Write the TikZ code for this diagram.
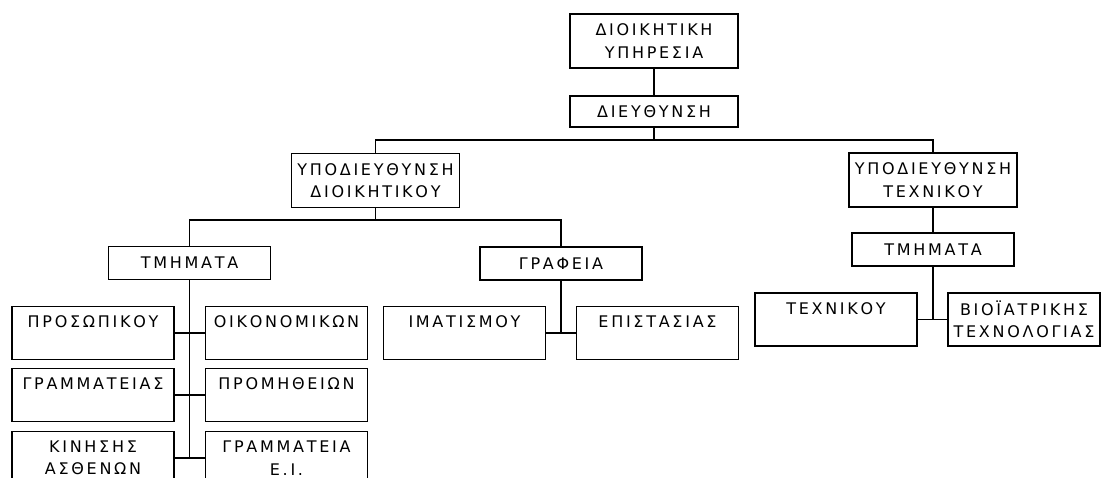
\documentclass[tikz,border=0pt]{standalone}
\usepackage{fontspec}
\newfontfamily\orgfont[LetterSpace=17]{DejaVu Sans}
\usepackage{tikz}
\usetikzlibrary{positioning}

\begin{document}
\begin{tikzpicture}[
			x=0.5pt, y=-0.5pt,
			every node/.style={draw, rectangle, align=center, inner sep=0pt, line width=0.9pt,
				font=\orgfont\fontsize{8}{11.2}\selectfont},
			headbox/.style={minimum width=84pt, minimum height=27pt},
			flatbox/.style={minimum width=81pt, minimum height=16.5pt},
			unitbox/.style={minimum width=81pt, minimum height=26.5pt},
			link/.style={line width=0.9pt}
			]
			\useasboundingbox (0,0) rectangle (1102,477);
			\clip (0,0) rectangle (1102,477);
			
			% Nodes
			\node (service) [headbox] at (654,41) {ΔΙΟΙΚΗΤΙΚΗ\\ΥΠΗΡΕΣΙΑ};
			\node (direction) [headbox, minimum height=15.5pt] at (654,111.5) {ΔΙΕΥΘΥΝΣΗ};
			\node (subadmin) [headbox] at (375.5,180.5) {ΥΠΟΔΙΕΥΘΥΝΣΗ\\ΔΙΟΙΚΗΤΙΚΟΥ};
			\node (subtech) [headbox] at (933,180) {ΥΠΟΔΙΕΥΘΥΝΣΗ\\ΤΕΧΝΙΚΟΥ};
			\node (deptadmin) [flatbox] at (189.5,263) {ΤΜΗΜΑΤΑ};
			\node (offices) [flatbox] at (561,263.5) {ΓΡΑΦΕΙΑ};
			\node (depttech) [flatbox] at (933,249.5) {ΤΜΗΜΑΤΑ};
			\node (staff) [unitbox] at (93,333) {ΠΡΟΣΩΠΙΚΟΥ\\\mbox{}};
			\node (finance) [unitbox] at (286.5,333) {ΟΙΚΟΝΟΜΙΚΩΝ\\\mbox{}};
			\node (secretary) [unitbox] at (93,395) {ΓΡΑΜΜΑΤΕΙΑΣ\\\mbox{}};
			\node (supplies) [unitbox] at (286.5,395) {ΠΡΟΜΗΘΕΙΩΝ\\\mbox{}};
			\node (patients) [unitbox] at (93,458) {ΚΙΝΗΣΗΣ\\ΑΣΘΕΝΩΝ};
			\node (secretaryei) [unitbox] at (286.5,458) {ΓΡΑΜΜΑΤΕΙΑ\\Ε.Ι.};
			\node (clothing) [unitbox] at (464.5,333) {ΙΜΑΤΙΣΜΟΥ\\\mbox{}};
			\node (supervision) [unitbox] at (657.5,333) {ΕΠΙΣΤΑΣΙΑΣ\\\mbox{}};
			\node (technical) [unitbox] at (836,319.5) {ΤΕΧΝΙΚΟΥ\\\mbox{}};
			\node (biomed) [unitbox, minimum width=76pt] at (1024,319.5) {ΒΙΟΪΑΤΡΙΚΗΣ\\ΤΕΧΝΟΛΟΓΙΑΣ};
			\coordinate (topbus) at (654,140);
			\coordinate (adminbus) at (375.5,220);
			
			% Connections
			\draw [link] (service) -- (direction);
			\draw [link] (direction) -- (topbus);
			\draw [link] (subadmin.north) |- (topbus) -| (subtech.north);
			\draw [link] (subadmin) -- (adminbus);
			\draw [link] (deptadmin.north) |- (adminbus) -| (offices.north);
			\draw [link] (subtech) -- (depttech);
			\draw [link] (deptadmin.south) -- (deptadmin.south |- patients.east);
			\draw [link] (staff.east) -- (finance.west);
			\draw [link] (secretary.east) -- (supplies.west);
			\draw [link] (patients.east) -- (secretaryei.west);
			\draw [link] (offices.south) -- (offices.south |- clothing.east);
			\draw [link] (clothing.east) -- (supervision.west);
			\draw [link] (depttech.south) -- (depttech.south |- technical.east);
			\draw [link] (technical.east) -- (biomed.west);
			
		\end{tikzpicture}
\end{document}
